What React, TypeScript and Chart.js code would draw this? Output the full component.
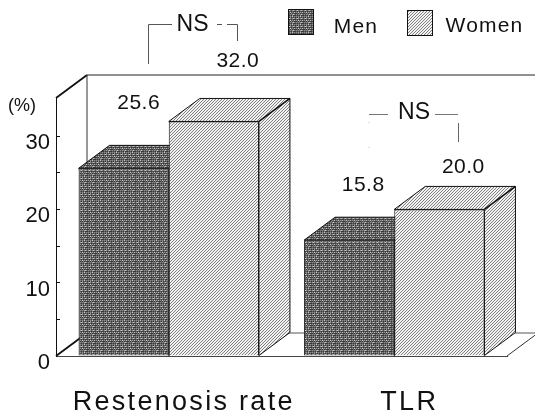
import React, { useEffect, useRef } from "react";
import { Chart, registerables } from "chart.js";

Chart.register(...registerables);

const categories = ["Restenosis rate", "TLR"];
const menValues = [25.6, 15.8];
const womenValues = [32.0, 20.0];
const menLabels = ["25.6", "15.8"];
const womenLabels = ["32.0", "20.0"];
const yTickLabels = [0, 10, 20, 30];
const seriesNames = ["Men", "Women"];

const FONT = '"Liberation Sans", Arial, sans-serif';
const DEPTH_X = 31;
const DEPTH_Y = -23;

function darkPattern(ctx: CanvasRenderingContext2D) {
  const c = document.createElement("canvas");
  c.width = 8;
  c.height = 8;
  const p = c.getContext("2d")!;
  const rows = [
    "21213121",
    "10201010",
    "23212321",
    "10101000",
    "21312131",
    "01020100",
    "21212321",
    "10102000",
  ];
  const shades = ["#383838", "#606060", "#8e8e8e", "#c4c4c4"];
  rows.forEach((r, y) =>
    r.split("").forEach((v, x) => {
      p.fillStyle = shades[+v];
      p.fillRect(x, y, 1, 1);
    })
  );
  return ctx.createPattern(c, "repeat")!;
}

function lightPattern(ctx: CanvasRenderingContext2D) {
  const c = document.createElement("canvas");
  c.width = 3;
  c.height = 3;
  const p = c.getContext("2d")!;
  p.fillStyle = "#f2f2f2";
  p.fillRect(0, 0, 3, 3);
  for (let i = 0; i < 3; i++) {
    p.fillStyle = "#808080";
    p.fillRect(2 - i, i, 1, 1);
  }
  return ctx.createPattern(c, "repeat")!;
}

const depthPlugin = {
  id: "depth",
  beforeDraw(chart: any) {
    const xs = chart.scales.x;
    if (!xs.__spaced) {
      xs.__spaced = true;
      const orig = xs.drawLabels.bind(xs);
      xs.drawLabels = (area: any) => {
        const c = chart.ctx;
        c.save();
        c.letterSpacing = "2.3px";
        orig(area);
        c.restore();
      };
    }
  },
  beforeDatasetsDraw(chart: any) {
    const { ctx, chartArea: a } = chart;
    ctx.save();
    ctx.strokeStyle = "#111";
    const seg = (x1: number, y1: number, x2: number, y2: number, w: number, col = "#111") => {
      ctx.lineWidth = w;
      ctx.strokeStyle = col;
      ctx.beginPath();
      ctx.moveTo(x1, y1);
      ctx.lineTo(x2, y2);
      ctx.stroke();
    };
    // walls and floor of the 3-D box
    seg(a.left, a.top, a.left + DEPTH_X, a.top + DEPTH_Y, 1.8);
    seg(a.left + DEPTH_X, a.top + DEPTH_Y, a.left + DEPTH_X, a.bottom + DEPTH_Y, 1, "#333");
    seg(a.left + DEPTH_X, a.top + DEPTH_Y, 535, a.top + DEPTH_Y, 1, "#222");
    seg(a.left, a.bottom, a.left + DEPTH_X, a.bottom + DEPTH_Y, 1.8);
    seg(a.left + DEPTH_X, a.bottom + DEPTH_Y, 535, a.bottom + DEPTH_Y, 1, "#555");
    seg(a.right, a.bottom, a.right + DEPTH_X, a.bottom + DEPTH_Y, 1, "#333");
    // top and side faces of every bar
    chart.data.datasets.forEach((ds: any, i: number) => {
      chart.getDatasetMeta(i).data.forEach((bar: any) => {
        const p = bar.getProps(["x", "y", "base", "width"]);
        const l = p.x - p.width / 2;
        const r = p.x + p.width / 2;
        ctx.fillStyle = ds.backgroundColor;
        ctx.lineWidth = 1;
        ctx.strokeStyle = "#111";
        ctx.beginPath();
        ctx.moveTo(l, p.y);
        ctx.lineTo(l + DEPTH_X, p.y + DEPTH_Y);
        ctx.lineTo(r + DEPTH_X, p.y + DEPTH_Y);
        ctx.lineTo(r + DEPTH_X, p.base + DEPTH_Y);
        ctx.lineTo(r, p.base);
        ctx.lineTo(r, p.y);
        ctx.closePath();
        ctx.fill();
        ctx.stroke();
        ctx.lineWidth = 1.6;
        ctx.beginPath();
        ctx.moveTo(r, p.y);
        ctx.lineTo(r + DEPTH_X, p.y + DEPTH_Y);
        ctx.stroke();
      });
    });
    ctx.restore();
  },
  afterDatasetsDraw(chart: any) {
    const { ctx } = chart;
    ctx.save();
    ctx.fillStyle = "#111";
    ctx.textBaseline = "middle";
    ctx.textAlign = "center";
    // value labels above the bars, offset as in the figure
    const text = (s: string, x: number, y: number, size: number, ls = "0.5px") => {
      ctx.font = `${size}px ${FONT}`;
      ctx.letterSpacing = ls;
      ctx.fillText(s, x, y);
    };
    const men = chart.getDatasetMeta(0).data;
    const women = chart.getDatasetMeta(1).data;
    const menOffsets = [[15, -65], [14, -55]];
    const womenOffsets = [[24, -60], [24, -42]];
    menLabels.forEach((s, i) => text(s, men[i].x + menOffsets[i][0], men[i].y + menOffsets[i][1], 21));
    womenLabels.forEach((s, i) => text(s, women[i].x + womenOffsets[i][0], women[i].y + womenOffsets[i][1], 21));
    // significance brackets
    text("NS", 192.5, 25, 23, "0px");
    text("NS", 414, 113, 23, "0px");
    text("(%)", 22, 106, 18, "0px");
    const path = (pts: number[][], col = "#555", dash: number[] = []) => {
      ctx.strokeStyle = col;
      ctx.lineWidth = 1;
      ctx.setLineDash(dash);
      ctx.beginPath();
      pts.forEach(([x, y], k) => (k ? ctx.lineTo(x, y) : ctx.moveTo(x, y)));
      ctx.stroke();
      ctx.setLineDash([]);
    };
    path([[148.5, 64], [148.5, 24.5], [172, 24.5]]);
    path([[217, 24.5], [222, 24.5]]);
    path([[227, 24.5], [237.5, 24.5], [237.5, 41]]);
    path([[369, 114.5], [388, 114.5]], "#777");
    path([[435, 114.5], [458, 114.5]], "#777");
    path([[458.5, 123], [458.5, 142]], "#666");
    path([[369, 122], [369, 123]], "#bbb");
    path([[369, 147], [369, 148]], "#bbb");
    // legend
    const swatches = [[288, 9, 26, 26], [407, 10, 26, 26]];
    const labelX = [356, 484.5];
    const labelY = [27, 26];
    chart.data.datasets.forEach((ds: any, i: number) => {
      const [x, y, w, h] = swatches[i];
      ctx.fillStyle = ds.backgroundColor;
      ctx.fillRect(x, y, w, h);
      ctx.strokeStyle = "#111";
      ctx.lineWidth = 1;
      ctx.strokeRect(x + 0.5, y + 0.5, w - 1, h - 1);
      ctx.fillStyle = "#111";
      text(seriesNames[i], labelX[i], labelY[i], 21, "1.2px");
    });
    ctx.restore();
  },
};

export default function App() {
  const ref = useRef<HTMLCanvasElement>(null);

  useEffect(() => {
    document.body.style.margin = "0";
    const canvas = ref.current!;
    const ctx = canvas.getContext("2d")!;
    const chart = new Chart(canvas, {
      type: "bar",
      data: {
        labels: categories,
        datasets: [
          { label: seriesNames[0], data: menValues, backgroundColor: darkPattern(ctx), borderColor: "#222", borderWidth: 1 },
          { label: seriesNames[1], data: womenValues, backgroundColor: lightPattern(ctx), borderColor: "#111", borderWidth: 1 },
        ],
      },
      plugins: [depthPlugin],
      options: {
        responsive: false,
        animation: false,
        layout: { padding: { top: 98, right: 28, left: 0, bottom: 0 } },
        datasets: { bar: { categoryPercentage: 0.8, barPercentage: 1 } },
        plugins: { legend: { display: false }, tooltip: { enabled: false }, title: { display: false } },
        scales: {
          x: {
            grid: { display: false },
            border: { display: true, color: "#444", width: 1 },
            ticks: {
              font: { family: FONT, size: 27 },
              color: "#111",
              labelOffset: 15,
              padding: 22,
              maxRotation: 0,
              autoSkip: false,
            },
            afterFit: (s: any) => {
              s.height = 58;
            },
          },
          y: {
            min: 0,
            max: 35.2,
            afterBuildTicks: (s: any) => {
              s.ticks = s.ticks.filter((t: any) => t.value <= 30);
            },
            grid: { drawOnChartArea: false, drawTicks: true, tickLength: -4, color: "#111" },
            border: { display: true, color: "#111", width: 1 },
            ticks: {
              stepSize: 5,
              includeBounds: false,
              font: { family: FONT, size: 22 },
              color: "#111",
              padding: 10,
              labelOffset: 7,
              autoSkip: false,
              callback: (v: any) => (yTickLabels.includes(v) ? String(v) : ""),
            },
            afterFit: (s: any) => {
              s.width = 56;
            },
          },
        },
      },
    });
    return () => chart.destroy();
  }, []);

  return <canvas ref={ref} width={535} height={414} style={{ display: "block" }} />;
}
